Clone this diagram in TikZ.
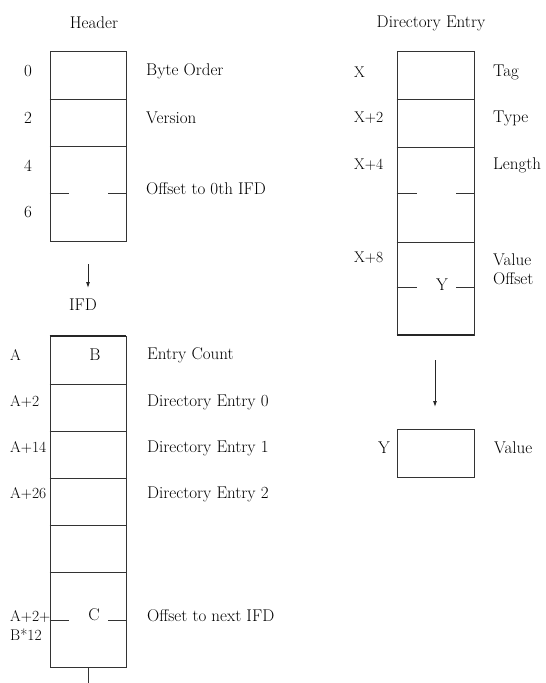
\documentclass[tikz,border=0pt]{standalone}
\usetikzlibrary{arrows.meta}
\begin{document}
\begin{tikzpicture}[x=1pt,y=-1pt,
  font=\fontsize{17}{19}\selectfont,
  box/.style={draw=black!80,line width=0.9pt,rectangle,inner sep=0pt,minimum width=76pt},
  sep/.style={draw=black!80,line width=0.9pt},
  thick edge/.style={draw=black!85,line width=2pt},
  lbl/.style={inner sep=0pt,anchor=west,text=black},
  lbls/.style={lbl,font=\fontsize{15.5}{19}\selectfont},
  lblc/.style={inner sep=0pt,anchor=center,text=black},
  conn/.style={draw=black!85,line width=0.9pt,-{Latex[length=6pt,width=4pt]}}]
\useasboundingbox (0,0) rectangle (546,683);

% ---------- Header ----------
\node[lblc] (thdr) at (94,23) {Header};
\node[box,minimum height=190pt] (hdr) at (88,146) {};
\draw[sep] (hdr.west |- 0,99) -- (hdr.east |- 0,99);
\draw[sep] (hdr.west |- 0,146) -- (hdr.east |- 0,146);
\draw[sep] (hdr.west |- 0,193) -- ++(19,0);
\draw[sep] (hdr.east |- 0,193) -- ++(-18,0);
\node[lblc] (h0) at (28,71) {0};
\node[lblc] (h2) at (28,118) {2};
\node[lblc] (h4) at (28,166) {4};
\node[lblc] (h6) at (28,212) {6};
\node[lbl] (hbo) at (146,71) {Byte Order};
\node[lbl] (hver) at (146,118) {Version};
\node[lbl] (hoff) at (146,189) {Offset to 0th IFD};

% arrow to IFD
\coordinate (a1s) at (88,264);
\coordinate (a1e) at (88,288);
\draw[conn] (a1s) -- (a1e);
\node[lblc] (tifd) at (83,305) {IFD};

% ---------- IFD ----------
\node[box,minimum height=331pt] (ifd) at (88,501.5) {};
\draw[thick edge] (ifd.north west) -- (ifd.north east);
\foreach \yy in {384,431,478,525,572}{
  \draw[sep] (ifd.west |- 0,\yy) -- (ifd.east |- 0,\yy);
}
\draw[sep] (ifd.west |- 0,620) -- ++(19,0);
\draw[sep] (ifd.east |- 0,620) -- ++(-18,0);
\node[lbls] (ia) at (10,355) {A};
\node[lblc] (ib) at (95,355) {B};
\node[lbls] (ia2) at (10,402) {A+2};
\node[lbls] (ia14) at (10,448) {A+14};
\node[lbls] (ia26) at (10,494) {A+26};
\node[lbls,align=left] (iac) at (10,626) {A+2+\\B*12};
\node[lblc] (ic) at (94,615) {C};
\node[lbl] (iec) at (147,355) {Entry Count};
\node[lbl] (id0) at (147,402) {Directory Entry 0};
\node[lbl] (id1) at (147,448) {Directory Entry 1};
\node[lbl] (id2) at (147,494) {Directory Entry 2};
\node[lbl] (inext) at (147,616) {Offset to next IFD};
\coordinate (tickend) at (88,683);
\draw[sep] (ifd.south) -- (tickend);

% ---------- Directory Entry ----------
\node[lblc] (tde) at (431,23) {Directory Entry};
\node[box,minimum width=77pt,minimum height=284pt] (de) at (435.5,193) {};
\draw[thick edge] (de.south west) -- (de.south east);
\draw[sep] (de.west |- 0,99) -- (de.east |- 0,99);
\draw[sep] (de.west |- 0,147) -- (de.east |- 0,147);
\draw[sep] (de.west |- 0,242) -- (de.east |- 0,242);
\draw[sep] (de.west |- 0,193) -- ++(20,0);
\draw[sep] (de.east |- 0,193) -- ++(-18,0);
\draw[sep] (de.west |- 0,287) -- ++(20,0);
\draw[sep] (de.east |- 0,287) -- ++(-18,0);
\node[lbls] (dx) at (354,72) {X};
\node[lbls] (dx2) at (354,118) {X+2};
\node[lbls] (dx4) at (354,165) {X+4};
\node[lbls] (dx8) at (354,258) {X+8};
\node[lblc] (dy) at (442,285) {Y};
\node[lbl] (dtag) at (493,72) {Tag};
\node[lbl] (dtype) at (493,118) {Type};
\node[lbl] (dlen) at (493,165) {Length};
\node[lbl,align=left] (dvo) at (493,269) {Value\\Offset};

% arrow to value
\coordinate (a2s) at (435,360);
\coordinate (a2e) at (435,407);
\draw[conn] (a2s) -- (a2e);

% ---------- Value ----------
\node[box,minimum width=77pt,minimum height=48pt] (val) at (435.5,453) {};
\node[lblc] (vy) at (384,448) {Y};
\node[lbl] (vval) at (494,448) {Value};
\end{tikzpicture}
\end{document}
